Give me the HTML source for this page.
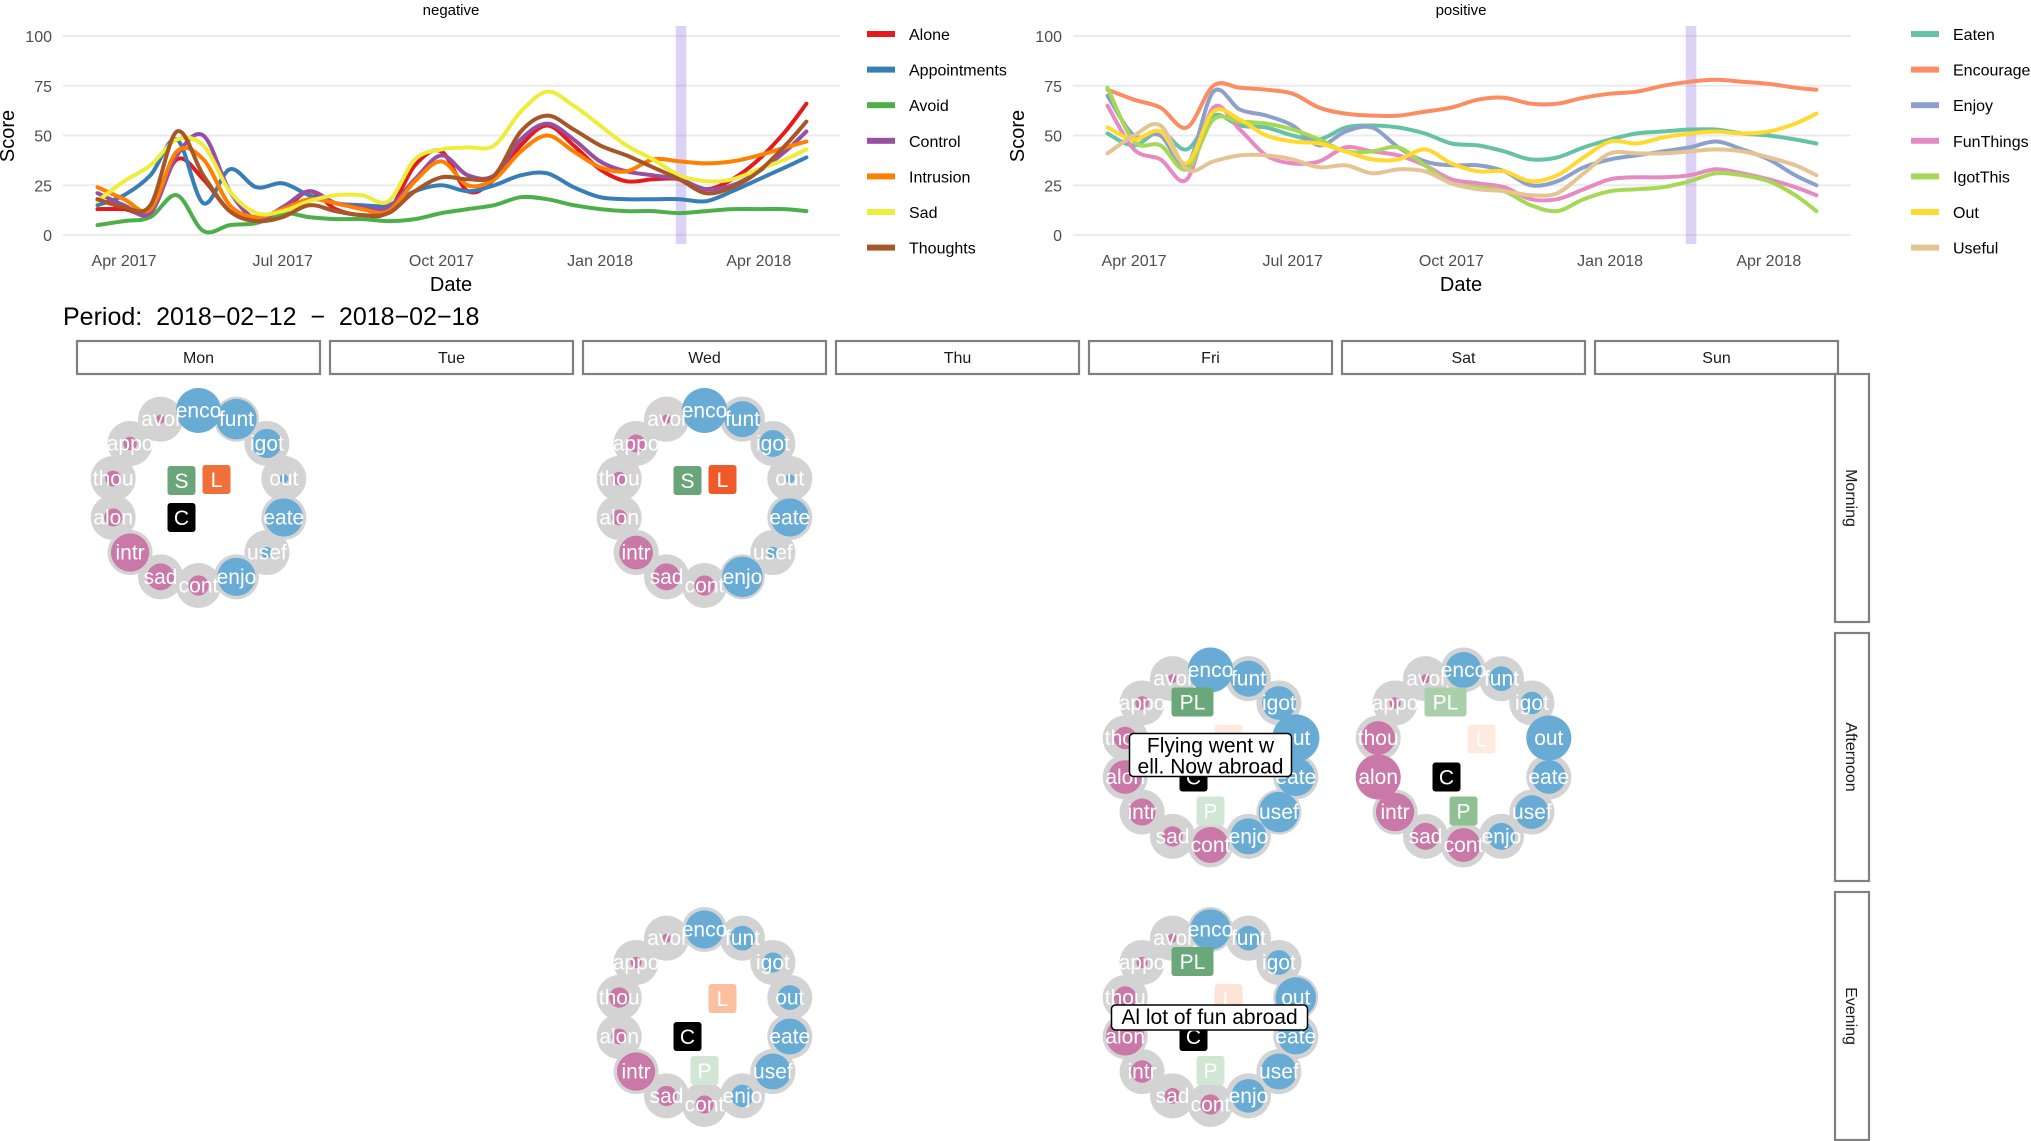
<!DOCTYPE html>
<html><head><meta charset="utf-8">
<style>
html,body{margin:0;padding:0;background:#fff;}
svg{display:block;font-family:"Liberation Sans",Arial,sans-serif;}
</style></head>
<body>
<svg id="root" width="2031" height="1141" viewBox="0 0 2031 1141" xmlns="http://www.w3.org/2000/svg">
<g id="charts"></g>
<g id="grid"></g>
</svg>
<script>
// ===== chart data =====
const months = [-0.5,0,0.5,1,1.5,2,2.5,3,3.5,4,4.5,5,5.5,6,6.5,7,7.5,8,8.5,9,9.5,10,10.5,11,11.5,12,12.5,12.9];
const tickLabels = ["Apr 2017","Jul 2017","Oct 2017","Jan 2018","Apr 2018"];
const tickMonths = [0,3,6,9,12];
const yTicks = [0,25,50,75,100];
const bandMonths = [10.43,10.63];
const negNames = ["Alone","Appointments","Avoid","Control","Intrusion","Sad","Thoughts"];
const negColors = ["#e41a1c","#377eb8","#4daf4a","#984ea3","#ff7f00","#eded3a","#a65628"];
const alone = [13,13,12,38,28,12,8,12,22,13,10,12,35,42,22,28,45,55,45,33,27,28,28,23,28,38,52,66];
const appointments = [15,20,30,48,16,33,24,26,20,16,15,15,22,25,22,25,30,31,24,19,18,18,18,17,22,28,34,39];
const avoid = [5,7,9,20,2,5,6,11,9,8,8,7,8,11,13,15,19,18,15,13,12,12,11,12,13,13,13,12];
const control = [21,15,11,40,50,22,8,14,22,16,14,14,28,40,30,30,48,56,48,37,32,30,28,23,25,32,42,52];
const intrusion = [24,18,13,42,38,15,9,13,18,16,13,12,27,37,25,28,42,50,42,34,32,38,37,36,37,40,44,47];
const sad = [17,27,35,48,45,22,11,12,17,20,20,17,38,43,44,45,62,72,65,55,45,38,30,27,28,33,38,43];
const thoughts = [18,14,15,52,30,12,7,9,15,12,10,11,22,29,28,30,52,60,53,45,40,34,28,21,24,32,45,57];
const negSeries = [alone,appointments,avoid,control,intrusion,sad,thoughts];

const posNames = ["Eaten","Encourage","Enjoy","FunThings","IgotThis","Out","Useful"];
const posColors = ["#66c2a5","#fc8d62","#8da0cb","#e78ac3","#a6d854","#ffd92f","#e5c494"];
const eaten = [51,45,52,43,60,55,54,50,48,54,55,54,51,46,45,42,38,39,44,48,51,52,53,53,51,50,48,46];
const encourage = [73,68,64,54,75,74,73,71,64,61,60,60,62,64,68,69,66,66,69,71,72,75,77,78,77,76,74,73];
const enjoy = [70,50,50,35,72,63,60,55,45,52,54,44,37,35,35,32,25,27,34,38,40,42,44,47,43,38,30,25];
const funThings = [65,43,38,28,64,53,40,36,37,44,42,40,35,28,26,24,18,18,23,28,29,29,30,33,31,28,24,20];
const igotThis = [74,47,45,33,58,57,56,53,48,42,42,44,35,26,24,22,15,12,18,22,23,24,27,31,30,27,20,12];
const out = [54,48,52,36,62,58,50,47,46,42,38,38,43,36,32,32,27,30,39,47,46,49,51,52,51,52,56,61];
const useful = [41,50,55,33,37,40,40,38,34,35,31,33,32,26,23,22,20,21,31,41,41,41,42,43,42,39,35,30];
const posSeries = [eaten,encourage,enjoy,funThings,igotThis,out,useful];

// ===== flower data =====
const petalNames = ["enco","funt","igot","out","eate","usef","enjo","cont","sad","intr","alon","thou","appo","avoi"];
const petalPositive = [1,1,1,1,1,1,1,0,0,0,0,0,0,0];
const days = ["Mon","Tue","Wed","Thu","Fri","Sat","Sun"];
const periods = ["Morning","Afternoon","Evening"];
const flowerDay = [0,2,4,5,2,4];
const flowerPeriod = [0,0,1,1,2,2];
const flowerValues = [
 [1.0,0.9,0.65,0.2,0.85,0.25,0.85,0.45,0.6,0.85,0.4,0.35,0.3,0.2],
 [1.0,0.8,0.6,0.2,0.85,0.25,0.9,0.45,0.6,0.75,0.35,0.3,0.4,0.2],
 [1.0,0.8,0.75,1.05,0.85,0.9,0.8,0.8,0.45,0.6,0.75,0.5,0.3,0.2],
 [0.8,0.55,0.5,1.0,0.75,0.75,0.6,0.75,0.6,0.85,1.0,0.75,0.25,0.2],
 [0.85,0.55,0.45,0.55,0.8,0.8,0.5,0.4,0.45,0.85,0.35,0.45,0.25,0.2],
 [0.9,0.55,0.55,0.9,0.8,0.8,0.75,0.45,0.35,0.5,0.85,0.5,0.25,0.2]
];
const flowerBadges = [
 [["S","#6aa57a"],["L","#f0703a"],["C","#000000"]],
 [["S","#6aa57a"],["L","#f05a28"]],
 [["PL","#6aa87a"],["L","#fdebe0"],["C","#000000"],["P","#d2e6d4"]],
 [["PL","#a9cfab"],["L","#fdebe0"],["C","#000000"],["P","#8fc093"]],
 [["L","#fcc0a0"],["C","#000000"],["P","#d2e6d4"]],
 [["PL","#6aa87a"],["L","#fde3d5"],["C","#000000"],["P","#d2e6d4"]]
];
const flowerNotes = ["","","Flying went w|ell. Now abroad","","","Al lot of fun abroad"];

const NS="http://www.w3.org/2000/svg";
function mk(tag,attrs,parent,text){const e=document.createElementNS(NS,tag);for(const k in attrs)e.setAttribute(k,attrs[k]);if(text!==undefined)e.textContent=text;parent.appendChild(e);return e;}

function smoothPath(pts){
  let d="M"+pts[0][0].toFixed(1)+","+pts[0][1].toFixed(1);
  for(let i=0;i<pts.length-1;i++){
    const p0=pts[Math.max(0,i-1)],p1=pts[i],p2=pts[i+1],p3=pts[Math.min(pts.length-1,i+2)];
    const c1=[p1[0]+(p2[0]-p0[0])/6,p1[1]+(p2[1]-p0[1])/6];
    const c2=[p2[0]-(p3[0]-p1[0])/6,p2[1]-(p3[1]-p1[1])/6];
    d+=" C"+c1[0].toFixed(1)+","+c1[1].toFixed(1)+" "+c2[0].toFixed(1)+","+c2[1].toFixed(1)+" "+p2[0].toFixed(1)+","+p2[1].toFixed(1);
  }
  return d;
}

function drawChart(cfg){
  const g=mk("g",{},document.getElementById("charts"));
  
  
  const x=m=>cfg.x0+52.9*m;
  const y=v=>235-1.99*v;
  yTicks.forEach(v=>{
    const l=mk("line",{x1:cfg.gx0,x2:cfg.gx1,y1:y(v),y2:y(v),stroke:"#ebebeb","stroke-width":2},g);
    
    
    const t=mk("text",{x:cfg.ylabX,y:y(v)+6,"text-anchor":"end","font-size":16,fill:"#4d4d4d"},g,String(v));
    
    
  });
  tickMonths.forEach((m,i)=>{
    const t=mk("text",{x:x(m),y:266,"text-anchor":"middle","font-size":16,fill:"#4d4d4d"},g,tickLabels[i]);
    
    
  });
  const band=mk("rect",{x:x(bandMonths[0]),y:26,width:x(bandMonths[1])-x(bandMonths[0]),height:218,fill:"#9b7fe6",opacity:0.35},g);
  
  
  cfg.series.forEach((s,k)=>{
    const pts=s.map((v,i)=>[x(months[i]),y(v)]);
    const p=mk("path",{d:smoothPath(pts),fill:"none",stroke:cfg.colors[k],"stroke-width":4,"stroke-linejoin":"round","stroke-linecap":"round"},g);
    
    
  });
  const tt=mk("text",{x:cfg.titleX,y:15,"text-anchor":"middle","font-size":15,fill:"#000"},g,cfg.name);
  
  
  const xt=mk("text",{x:cfg.titleX,y:291,"text-anchor":"middle","font-size":20,fill:"#000"},g,"Date");
  
  
  const yt=mk("text",{x:0,y:0,"text-anchor":"middle","font-size":20,fill:"#000",transform:"translate("+cfg.scoreX+",136) rotate(-90)"},g,"Score");
  
  
  cfg.names.forEach((n,k)=>{
    const ly=34+35.6*k;
    const sw=mk("rect",{x:cfg.legX,y:ly-3,width:28,height:6,fill:cfg.colors[k]},g);
    
    
    const lt=mk("text",{x:cfg.legX+42,y:ly+6,"font-size":16,fill:"#000"},g,n);
    
    
  });
}
drawChart({name:"negative",x0:124,gx0:63,gx1:840,ylabX:52,titleX:451,scoreX:14,legX:867,names:negNames,colors:negColors,series:negSeries});
drawChart({name:"positive",x0:1134,gx0:1073,gx1:1851,ylabX:1062,titleX:1461,scoreX:1024,legX:1911,names:posNames,colors:posColors,series:posSeries});

// ===== grid of flowers =====
const G=document.getElementById("grid");
const per=mk("text",{x:63,y:325,"font-size":25,fill:"#000",style:"white-space:pre"},G,"Period:  2018\u221202\u221212  \u2212  2018\u221202\u221218");


days.forEach((d,i)=>{
  const x0=77+253*i;
  const r=mk("rect",{x:x0,y:341,width:243,height:33,fill:"#fff",stroke:"#808080","stroke-width":2.2},G);
  
  
  const t=mk("text",{x:x0+121.5,y:363,"text-anchor":"middle","font-size":16,fill:"#1a1a1a"},G,d);
  
  
});
periods.forEach((p,i)=>{
  const y0=374+259*i;
  const r=mk("rect",{x:1835,y:y0,width:34,height:248,fill:"#fff",stroke:"#808080","stroke-width":2.2},G);
  
  
  const t=mk("text",{x:0,y:0,"text-anchor":"middle","font-size":16,fill:"#1a1a1a",transform:"translate(1846,"+(y0+124)+") rotate(90)"},G,p);
  
  
});
const badgePos={S:[-17,-18],L:[18,-19],C:[-17,19],PL:[-18,-56],P:[0,53]};
flowerValues.forEach((vals,f)=>{
  const cx=77+253*flowerDay[f]+121.5, cy=498+259.5*flowerPeriod[f];
  const fg=mk("g",{},G);
  
  
  const R=87.5, pr=22.5;
  petalNames.forEach((n,i)=>{
    const a=-Math.PI/2+i*2*Math.PI/14;
    const px=cx+R*Math.cos(a), py=cy+R*Math.sin(a);
    const bg=mk("circle",{cx:px,cy:py,r:pr,fill:"#d3d3d3"},fg);
    
    
  });
  petalNames.forEach((n,i)=>{
    const a=-Math.PI/2+i*2*Math.PI/14;
    const px=cx+R*Math.cos(a), py=cy+R*Math.sin(a);
    const c=mk("circle",{cx:px,cy:py,r:pr*vals[i],fill:petalPositive[i]?"#68acd5":"#c978a8"},fg);
    
    
  });
  petalNames.forEach((n,i)=>{
    const a=-Math.PI/2+i*2*Math.PI/14;
    const px=cx+R*Math.cos(a), py=cy+R*Math.sin(a);
    const t=mk("text",{x:px,y:py+7,"text-anchor":"middle","font-size":21,fill:"#fff"},fg,n);
    
    
  });
  flowerBadges[f].forEach(b=>{
    const pos=badgePos[b[0]]; const w=b[0]==="PL"?42:28;
    const r=mk("rect",{x:cx+pos[0]-w/2,y:cy+pos[1]-14,width:w,height:29,rx:3,fill:b[1]},fg);
    
    
    const t=mk("text",{x:cx+pos[0],y:cy+pos[1]+8,"text-anchor":"middle","font-size":21,fill:"#fff"},fg,b[0]);
    
    
  });
  if(flowerNotes[f]){
    const lines=flowerNotes[f].split("|");
    const w=lines.length>1?162:196, h=lines.length>1?43:25;
    const bx=cx-w/2+(lines.length>1?0:-1), by=lines.length>1?cy-24:cy-12;
    const r=mk("rect",{x:bx,y:by,width:w,height:h,rx:4,fill:"#fff",stroke:"#000","stroke-width":1.5},fg);
    
    
    lines.forEach((ln,j)=>{
      const t=mk("text",{x:bx+w/2,y:by+19+21*j,"text-anchor":"middle","font-size":21,fill:"#000"},fg,ln);
      
      
    });
  }
});
</script>
</body></html>
